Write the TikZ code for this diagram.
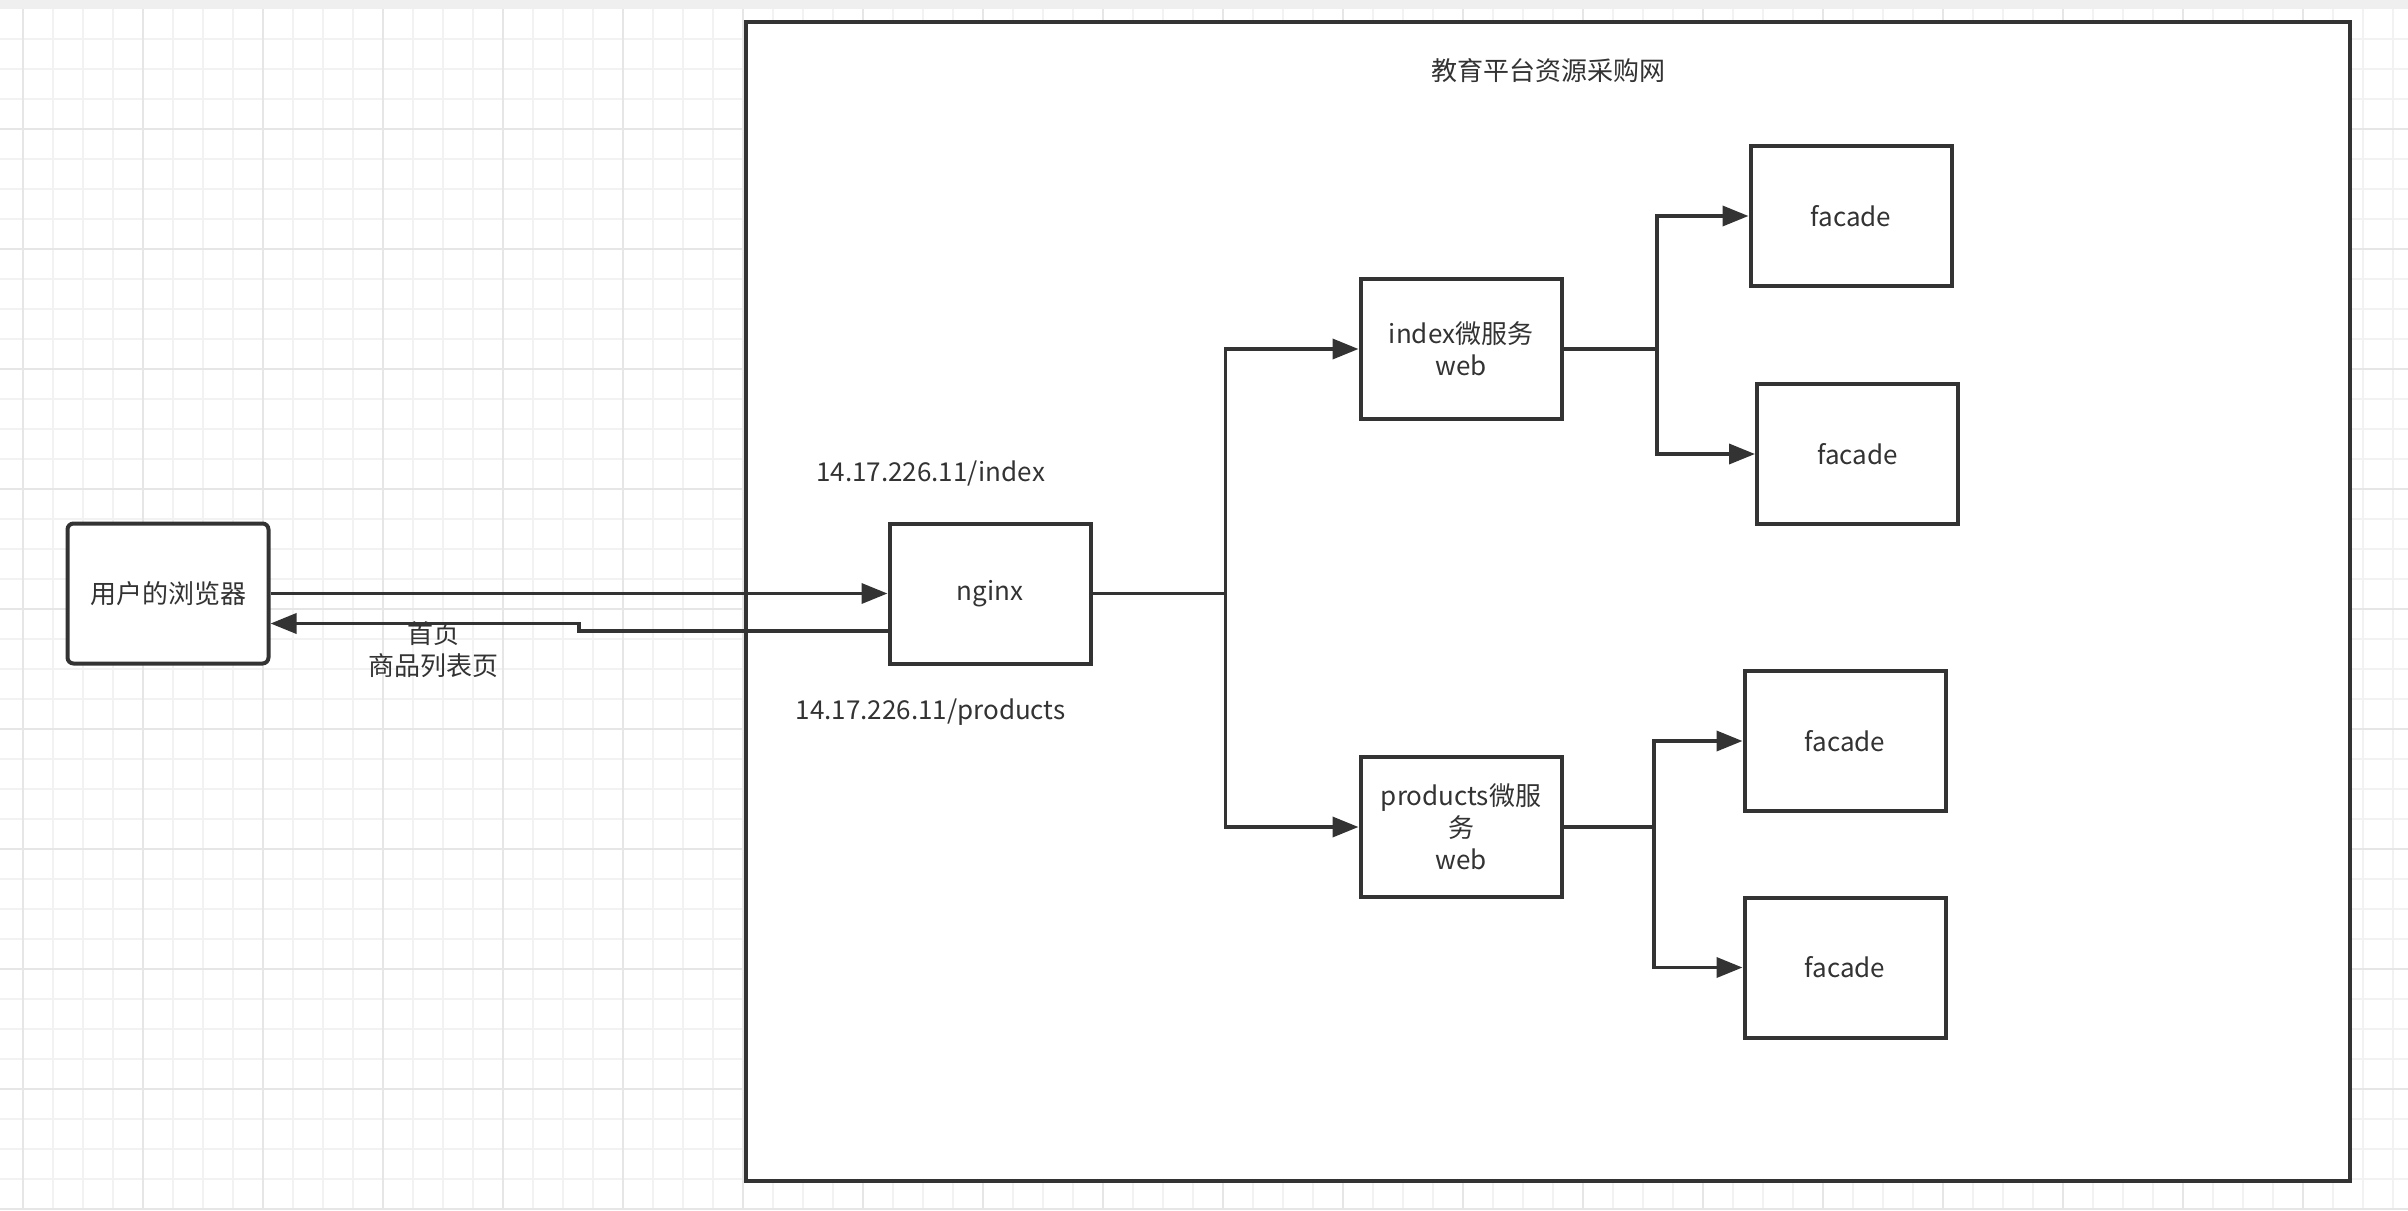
\documentclass[tikz,border=0pt]{standalone}
\usepackage{fontspec}
\setmainfont{Noto Sans CJK SC}
\usetikzlibrary{arrows.meta}
\definecolor{ink}{HTML}{333333}
\definecolor{gridminor}{HTML}{F2F2F2}
\definecolor{gridmajor}{HTML}{E6E6E6}
\definecolor{topband}{HTML}{EFEFEF}
\begin{document}
\begin{tikzpicture}
    [
      x=.5pt, y=-.5pt,
      font=\fontsize{13}{16}\selectfont,
      text=ink,
      box/.style={draw=ink, line width=2pt, fill=white, minimum width=100.5pt,
                  minimum height=70pt, align=center, inner sep=2pt},
      arr/.style={draw=ink, line width=1.8pt, -{Triangle[length=13pt,width=10pt]}},
    ]
    \useasboundingbox (0,0) rectangle (2408,1210);

    % grid
    \fill [white] (0,0) rectangle (2408,1210);
    \foreach \x in {23,53,...,2408} \draw [gridminor, line width=1pt] (\x,9) -- (\x,1210);
    \foreach \y in {39,69,...,1210} \draw [gridminor, line width=1pt] (0,\y) -- (2408,\y);
    \foreach \x in {23,143,...,2408} \draw [gridmajor, line width=1.4pt] (\x,9) -- (\x,1210);
    \foreach \y in {129,249,...,1210} \draw [gridmajor, line width=1.4pt] (0,\y) -- (2408,\y);
    \fill [topband] (0,0) rectangle (2408,9);

    % platform frame
    \draw [ink, line width=2pt, fill=white] (746,21.5) rectangle (2350,1181);
    \node (title) at (1548,71) {教育平台资源采购网};

    % boxes
    \node [box, rounded corners=3pt] (browser) at (168,593.5) {用户的浏览器};
    \node [box] (nginx) at (990,593.5) {nginx};
    \node [box] (iweb) at (1461,349) {index微服务\\web};
    \node [box] (pweb) at (1461,827) {products微服\\务\\web};
    \node [box] (fa1) at (1851,216) {facade};
    \node [box] (fa2) at (1857.5,454) {facade};
    \node [box] (fa3) at (1845,741) {facade};
    \node [box] (fa4) at (1845,967.5) {facade};

    % labels
    \node (urlindex) at (930.6,473) {14.17.226.11/index};
    \node (urlprod) at (930.6,712.6) {14.17.226.11/products};
    \node [align=center] (pages) at (433,650) {首页\\商品列表页};

    % junctions
    \coordinate (jn) at (1225.5,593.5);
    \coordinate (ji) at (1657,349);
    \coordinate (jp) at (1654,827);
    \coordinate (bend) at (579,631);

    % request and response
    \draw [arr] (browser.east) -- (nginx.west);
    \draw [arr] (nginx.west |- bend) -- (bend) -- ++(0,-7.5) -- (browser.east |- 0,623.5);

    % nginx routing
    \draw [arr] (nginx.east) -- (jn) |- (iweb.west);
    \draw [arr] (jn) |- (pweb.west);

    % services to facades
    \draw [arr] (iweb.east) -- (ji) |- (fa1.west);
    \draw [arr] (ji) |- (fa2.west);
    \draw [arr] (pweb.east) -- (jp) |- (fa3.west);
    \draw [arr] (jp) |- (fa4.west);
\end{tikzpicture}
\end{document}
